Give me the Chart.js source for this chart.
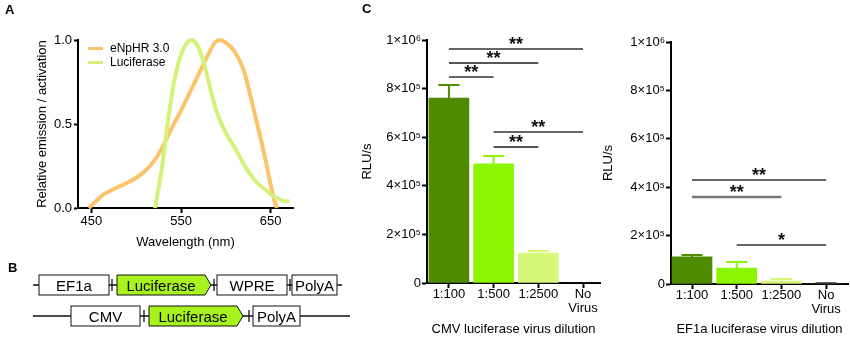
<!DOCTYPE html>
<html>
<head>
<meta charset="utf-8">
<script src="https://cdn.jsdelivr.net/npm/chart.js@4.4.0/dist/chart.umd.min.js"></script>
<style>
html,body{margin:0;padding:0;background:#fff;}
#wrap{position:relative;width:850px;height:337px;overflow:hidden;background:#fff;font-family:"Liberation Sans",Arial,sans-serif;color:#000;}
.cv{position:absolute;}
.lbl{position:absolute;font-weight:bold;font-size:13px;line-height:13px;}
.lg{position:absolute;font-size:12px;line-height:14px;white-space:nowrap;}
.lgline{position:absolute;height:3px;width:15px;}
</style>
</head>
<body>
<div id="wrap">
  <canvas id="chartA" class="cv" width="300" height="250" style="left:0;top:0"></canvas>
  <canvas id="chartC1" class="cv" width="262" height="337" style="left:350px;top:0"></canvas>
  <canvas id="chartC2" class="cv" width="250" height="337" style="left:600px;top:0"></canvas>

  <div class="lbl" style="left:5px;top:3px">A</div>
  <div class="lbl" style="left:8px;top:261px">B</div>
  <div class="lbl" style="left:362px;top:2px">C</div>

  <div class="lgline" id="lgHR" style="left:88px;top:47px"></div>
  <div class="lg" style="left:110px;top:41px">eNpHR 3.0</div>
  <div class="lgline" id="lgLuc" style="left:88px;top:61px"></div>
  <div class="lg" style="left:110px;top:55px">Luciferase</div>

  <svg width="360" height="87" style="position:absolute;left:0;top:250px" font-family="Liberation Sans, Arial, sans-serif" font-size="15" text-anchor="middle">
    <g stroke="#111" stroke-width="1.3" fill="none">
      <line x1="33" y1="35" x2="342" y2="35"/>
      <line x1="112" y1="29" x2="112" y2="41"/>
      <line x1="214" y1="29" x2="214" y2="41"/>
      <line x1="290" y1="29" x2="290" y2="41"/>
      <line x1="33" y1="66" x2="350" y2="66"/>
      <line x1="144" y1="60" x2="144" y2="72"/>
      <line x1="249" y1="60" x2="249" y2="72"/>
    </g>
    <g stroke="#111" stroke-width="1">
      <rect x="39" y="25" width="70" height="20" fill="#fff"/>
      <polygon points="117,25 205,25 211,35 205,45 117,45" fill="#A8F21E"/>
      <rect x="217" y="25" width="70" height="20" fill="#fff"/>
      <rect x="292" y="25" width="45" height="20" fill="#fff"/>
      <rect x="71" y="56" width="69" height="20" fill="#fff"/>
      <polygon points="149,56 237,56 243,66 237,76 149,76" fill="#A8F21E"/>
      <rect x="253" y="56" width="47" height="20" fill="#fff"/>
    </g>
    <g fill="#000">
      <text x="74" y="40.5">EF1a</text>
      <text x="161" y="40.5">Luciferase</text>
      <text x="252" y="40.5">WPRE</text>
      <text x="314.5" y="40.5">PolyA</text>
      <text x="105.5" y="71.5">CMV</text>
      <text x="193" y="71.5">Luciferase</text>
      <text x="276.5" y="71.5">PolyA</text>
    </g>
  </svg>
</div>

<script>
// ---------- Panel A data ----------
const hrWavelengths = [447,455,462,470,480,490,500,510,520,530,540,550,560,570,580,588,593,600,610,620,626,630,640,645,650,654,657];
const hrValues      = [0,0.04,0.075,0.10,0.125,0.15,0.18,0.22,0.28,0.37,0.48,0.58,0.69,0.80,0.91,0.985,1.0,0.985,0.93,0.82,0.70,0.61,0.39,0.27,0.14,0.05,0];
const lucWavelengths = [521,525,529,533,536,540,543,548,553,558,562,566,570,574,580,585,590,597,604,611,618,626,635,644,652,660,666,671];
const lucValues      = [0,0.12,0.25,0.42,0.54,0.68,0.77,0.88,0.95,0.99,1.0,0.985,0.95,0.89,0.77,0.66,0.57,0.48,0.41,0.35,0.28,0.21,0.15,0.11,0.075,0.05,0.04,0.04];
const seriesNamesA = ['eNpHR 3.0','Luciferase'];
const xTicksA = [450,550,650];
const yTicksA = [0,0.5,1.0];

// ---------- Panel C data ----------
const dilutions = ['1:100','1:500','1:2500',['No','Virus']];
const cmvMeans  = [761000, 490000, 123000, 0];
const cmvErrors = [54000, 33000, 9000, 0];
const ef1aMeans  = [112000, 66000, 12000, 2000];
const ef1aErrors = [8000, 25000, 9000, 1000];
const yTicksC = [0,200000,400000,600000,800000,1000000];
// [from category, to category, height, label]
const cmvSig  = [[0,3,963000,'**'],[0,2,905000,'**'],[0,1,848000,'**'],[1,3,621000,'**'],[1,2,560000,'**']];
const ef1aSig = [[0,3,430000,'**'],[0,2,360000,'**'],[1,3,161000,'*']];

// ---------- styles ----------
const colHR = '#FCC46A', colLuc = '#D4F27A';
const barColors = ['#4E8B00','#8CF500','#D6F77A','#333333'];
document.getElementById('lgHR').style.background = colHR;
document.getElementById('lgLuc').style.background = colLuc;

Chart.defaults.font.family = "'Liberation Sans', Arial, sans-serif";
Chart.defaults.font.size = 13;
Chart.defaults.color = '#000';
Chart.defaults.animation = false;

const axisGrid = {display:true, drawOnChartArea:false, drawTicks:true, tickLength:5, tickWidth:2, tickColor:'#000'};
const axisBorder = {display:true, color:'#000', width:2};

// ---------- Panel A ----------
new Chart(document.getElementById('chartA'), {
  type:'line',
  data:{datasets:[
    {label:seriesNamesA[1], data:lucWavelengths.map((w,i)=>({x:w,y:lucValues[i]})), borderColor:colLuc, borderWidth:4, pointRadius:0, cubicInterpolationMode:'monotone', clip:false},
    {label:seriesNamesA[0], data:hrWavelengths.map((w,i)=>({x:w,y:hrValues[i]})), borderColor:colHR, borderWidth:4, pointRadius:0, cubicInterpolationMode:'monotone', clip:false}
  ]},
  options:{
    responsive:false, devicePixelRatio:1,
    layout:{padding:{top:40,right:7,left:0,bottom:0}},
    plugins:{legend:{display:false}, tooltip:{enabled:false}},
    scales:{
      x:{type:'linear', min:435, max:675,
        afterBuildTicks:s=>{s.ticks = xTicksA.map(v=>({value:v}));},
        afterFit:s=>{s.height = 42;},
        ticks:{padding:1, maxRotation:0, autoSkip:false, font:{size:13, lineHeight:1.1}},
        grid:axisGrid, border:axisBorder,
        title:{display:true, text:'Wavelength (nm)', font:{size:13}, padding:{top:2.2,bottom:0}}
      },
      y:{min:0, max:1,
        afterBuildTicks:s=>{s.ticks = yTicksA.map(v=>({value:v}));},
        afterFit:s=>{s.width = 78;},
        ticks:{padding:2, callback:v=>Number(v).toFixed(1), font:{size:13}},
        grid:Object.assign({}, axisGrid, {tickLength:4}), border:axisBorder,
        title:{display:true, text:'Relative emission / activation', font:{size:13}, padding:{top:34.2,bottom:0}}
      }
    }
  }
});

// ---------- Panel C helpers ----------
const sup = {5:'\u2075', 6:'\u2076'};
function sciLabel(v){
  if (v === 0) return '0';
  const e = Math.floor(Math.log10(v) + 1e-9);
  const m = Math.round(v / Math.pow(10, e));
  return m + '\u00D710' + sup[e];
}
function makeErrorPlugin(means, errors, colors){
  return {id:'errbars', afterDatasetsDraw(chart){
    const {ctx, scales:{x, y}} = chart;
    ctx.save(); ctx.lineWidth = 2;
    means.forEach((m,i)=>{
      if (m === 0 && errors[i] === 0) return;
      const px = x.getPixelForValue(i);
      const y0 = y.getPixelForValue(m), y1 = y.getPixelForValue(m + errors[i]);
      ctx.strokeStyle = colors[i];
      ctx.beginPath();
      ctx.moveTo(px, y0); ctx.lineTo(px, y1);
      ctx.moveTo(px - 10.5, y1); ctx.lineTo(px + 10.5, y1);
      ctx.stroke();
    });
    ctx.restore();
  }};
}
function makeSigPlugin(items, colors, widths){
  return {id:'sig', afterDatasetsDraw(chart){
    const {ctx, scales:{x, y}} = chart;
    ctx.save();
    items.forEach((it,k)=>{
      const x0 = x.getPixelForValue(it[0]), x1 = x.getPixelForValue(it[1]);
      const py = y.getPixelForValue(it[2]);
      ctx.strokeStyle = colors[k]; ctx.lineWidth = widths[k];
      ctx.beginPath(); ctx.moveTo(x0, py); ctx.lineTo(x1, py); ctx.stroke();
      ctx.fillStyle = '#111';
      ctx.font = "bold 18px 'Liberation Sans', Arial, sans-serif";
      ctx.textAlign = 'center'; ctx.textBaseline = 'alphabetic';
      ctx.fillText(it[3], (x0 + x1) / 2, py + 1);
    });
    ctx.restore();
  }};
}
function barChart(id, means, errors, sig, sigColors, sigWidths, opts){
  return new Chart(document.getElementById(id), {
    type:'bar',
    data:{datasets:[{data:means.map((m,i)=>({x:i, y:m})), backgroundColor:barColors, barThickness:40, borderWidth:0}]},
    options:{
      responsive:false, devicePixelRatio:1,
      layout:{padding:{top:opts.top, right:opts.right, left:0, bottom:0}},
      plugins:{legend:{display:false}, tooltip:{enabled:false}},
      scales:{
        x:{type:'linear', min:opts.xmin, max:opts.xmax, offset:false, z:1,
          afterBuildTicks:s=>{s.ticks = dilutions.map((d,i)=>({value:i}));},
          afterFit:s=>{s.height = opts.xh;},
          ticks:{padding:-1, maxRotation:0, autoSkip:false, callback:v=>dilutions[v], font:{size:13, lineHeight:1.1}},
          grid:Object.assign({}, axisGrid, {offset:false}), border:axisBorder,
          title:{display:true, text:opts.xtitle, font:{size:13}, padding:{top:1.7,bottom:0}}
        },
        y:{min:0, max:1000000,
          afterBuildTicks:s=>{s.ticks = yTicksC.map(v=>({value:v}));},
          afterFit:s=>{s.width = opts.yw;},
          ticks:{padding:1, callback:v=>sciLabel(v), font:{size:13}},
          grid:axisGrid, border:axisBorder,
          title:{display:true, text:'RLU/s', font:{size:13}, padding:{top:opts.ytp,bottom:0}}
        }
      }
    },
    plugins:[makeErrorPlugin(means, errors, barColors), makeSigPlugin(sig, sigColors, sigWidths)]
  });
}

barChart('chartC1', cmvMeans, cmvErrors, cmvSig,
  ['#333','#555','#333','#333','#555'], [1.5,2,1.5,1.5,2],
  {top:40, right:12, xh:54, yw:77, ytp:9.2, xmin:-0.49, xmax:3.38, xtitle:'CMV luciferase virus dilution'});
barChart('chartC2', ef1aMeans, ef1aErrors, ef1aSig,
  ['#333','#777','#333'], [1.5,2.5,1.5],
  {top:42, right:2, xh:53, yw:71, ytp:0.2, xmin:-0.47, xmax:3.49, xtitle:'EF1a luciferase virus dilution'});
</script>
</body>
</html>
